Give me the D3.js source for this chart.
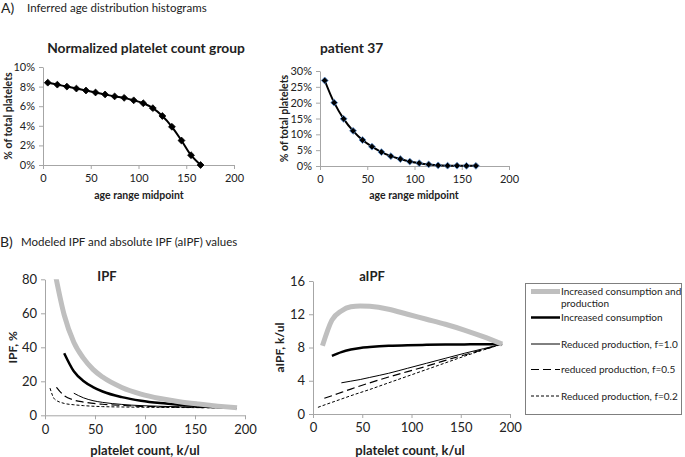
<!DOCTYPE html>
<html><head><meta charset="utf-8">
<script src="https://cdn.jsdelivr.net/npm/d3@7"></script>
<style>
html,body{margin:0;padding:0;background:#fff;}
svg{display:block;font-family:Lato,"Open Sans",sans-serif;}
</style></head>
<body><svg id="c" width="685" height="457"></svg>
<script>
// ---------- Data ----------
const ageMid = [5,15,25,35,45,55,65,75,85,95,105,115,125,135,145,155,165];
const normalizedPct = [8.4,8.2,8.0,7.8,7.6,7.4,7.2,7.0,6.85,6.6,6.3,5.8,5.0,3.9,2.5,1.0,0.0];
const patient37Pct = [27.0,20.0,14.9,11.1,8.2,6.1,4.4,3.1,2.2,1.4,0.9,0.5,0.2,0.1,0.1,0.05,0.05];
const ageTicks = [0,50,100,150,200];
const pctTicksA1 = [0,2,4,6,8,10];
const pctTicksA2 = [0,5,10,15,20,25,30];

const countTicks = [0,50,100,150,200];
const ipfTicks = [0,20,40,60,80];
const aipfTicks = [0,4,8,12,16];

const seriesNames = ["Increased consumption and production","Increased consumption","Reduced production, f=1.0","reduced production, f=0.5","Reduced production, f=0.2"];
const countsConsProd = [9.6,19.2,28.8,38.4,48,57.6,76.8,96,115.2,134.4,153.6,172.8,192];
const ipfConsProd   = [85,59,43,33.6,27,22.5,16.4,12.5,9.9,8.0,6.6,5.4,4.4];
const aipfConsProd  = [8.2,11.3,12.4,12.9,13.0,12.95,12.6,12.0,11.4,10.8,10.1,9.3,8.4];
const countsCons = [19.2,28.8,38.4,48,57.6,76.8,96,115.2,134.4,153.6,172.8,192];
const ipfCons    = [36.5,25.9,20.2,16.6,14.0,10.7,8.6,7.2,6.2,5.4,4.85,4.4];
const aipfCons   = [7.0,7.45,7.75,7.95,8.05,8.2,8.28,8.32,8.35,8.37,8.39,8.4];
const countsF10 = [28.8,38.4,48,57.6,76.8,96,115.2,134.4,153.6,172.8,192];
const ipfF10    = [13.0,10.3,8.6,7.6,6.4,5.7,5.3,5.0,4.75,4.55,4.4];
const aipfF10   = [3.75,3.95,4.15,4.4,4.9,5.5,6.1,6.7,7.3,7.85,8.4];
const countsF05 = [11.5,19.2,28.8,38.4,57.6,76.8,96,115.2,134.4,153.6,172.8,192];
const ipfF05    = [16.5,11.5,9.0,7.8,6.5,5.8,5.3,5.0,4.8,4.6,4.5,4.4];
const aipfF05   = [1.9,2.2,2.6,3.0,3.75,4.45,5.1,5.75,6.45,7.1,7.75,8.4];
const countsF02 = [5,9.6,19.2,28.8,38.4,57.6,76.8,96,115.2,134.4,153.6,172.8,192];
const ipfF02    = [16,9.5,7.0,6.2,5.7,5.1,4.9,4.75,4.65,4.57,4.5,4.45,4.4];
const aipfF02   = [0.8,1.0,1.4,1.8,2.2,2.95,3.75,4.55,5.35,6.15,6.95,7.7,8.4];

// ---------- Drawing ----------
const svg = d3.select("#c");
const AX = "#a6a6a6", TXT = "#222";

// headers
svg.append("text").attr("x",1).attr("y",13).attr("font-size",14).attr("fill",TXT).text("A)");
svg.append("text").attr("x",27).attr("y",12).attr("font-size",11.5).attr("fill",TXT).text("Inferred age distribution histograms");
svg.append("text").attr("x",0).attr("y",247).attr("font-size",14).attr("fill",TXT).text("B)");
svg.append("text").attr("x",21).attr("y",246).attr("font-size",11.5).attr("fill",TXT).text("Modeled IPF and absolute IPF (aIPF) values");

function axes(g, x, y, xt, yt, yfmt, fs, xLabY) {
  const xa = d3.axisBottom(x).tickValues(xt).tickSize(4).tickSizeOuter(0).tickPadding(xLabY);
  const ya = d3.axisLeft(y).tickValues(yt).tickSize(4).tickSizeOuter(0).tickFormat(yfmt).tickPadding(4);
  const gx = g.append("g").attr("transform",`translate(0,${y.range()[0]})`).call(xa);
  const gy = g.append("g").attr("transform",`translate(${x.range()[0]},0)`).call(ya);
  [gx,gy].forEach(a=>{
    a.select(".domain").attr("stroke",AX);
    a.selectAll(".tick line").attr("stroke",AX);
    a.selectAll(".tick text").attr("fill",TXT).attr("font-size",fs).attr("font-family","Lato,'Open Sans',sans-serif");
  });
}

function chartA(x0,x1,yTop,yBot,ymax,ticks,vals,title,titleX,titleAnchor,ylabX,xlabX,markerStroke){
  const x = d3.scaleLinear().domain([0,200]).range([x0,x1]);
  const y = d3.scaleLinear().domain([0,ymax]).range([yBot,yTop]);
  const g = svg.append("g");
  axes(g,x,y,ageTicks,ticks,d=>d+"%",11,5);
  g.append("text").attr("x",titleX).attr("y",53).attr("text-anchor",titleAnchor).attr("font-weight","bold").attr("font-size",13.8).attr("fill",TXT).text(title);
  g.append("text").attr("transform",`translate(${ylabX},${(yTop+yBot)/2}) rotate(-90)`).attr("text-anchor","middle").attr("font-weight","bold").attr("font-size",10.5).attr("fill",TXT).text("% of total platelets");
  g.append("text").attr("x",xlabX).attr("y",199).attr("text-anchor","middle").attr("font-weight","bold").attr("font-size",10.5).attr("fill",TXT).text("age range midpoint");
  const pts = ageMid.map((a,i)=>[a,vals[i]]);
  g.append("path").datum(pts).attr("fill","none").attr("stroke","#000").attr("stroke-width",2)
    .attr("d",d3.line().x(d=>x(d[0])).y(d=>y(d[1])).curve(d3.curveCatmullRom.alpha(0.5)));
  g.selectAll(".m").data(pts).enter().append("path")
    .attr("transform",d=>`translate(${x(d[0])},${y(d[1])})`)
    .attr("d",d3.symbol(d3.symbolDiamond2,30)())
    .attr("fill","#000").attr("stroke",markerStroke).attr("stroke-width",0.8);
}
chartA(43,234,67,165,10,pctTicksA1,normalizedPct,"Normalized platelet count group",146,"middle",12,139,"#000");
chartA(320,509,71,166,30,pctTicksA2,patient37Pct,"patient 37",320,"start",288,414,"#5b8fd0");

const styles = [
  {stroke:"#bfbfbf",w:5,dash:null},
  {stroke:"#000",w:2.5,dash:null},
  {stroke:"#000",w:1,dash:null},
  {stroke:"#000",w:1.2,dash:"8,4"},
  {stroke:"#000",w:1,dash:"3,2"}
];

function chartB(x0,x1,yTop,yBot,ymax,yt,series,title,titleX,ylab,ylabX,xlabX,clipId){
  const x = d3.scaleLinear().domain([0,200]).range([x0,x1]);
  const y = d3.scaleLinear().domain([0,ymax]).range([yBot,yTop]);
  const g = svg.append("g");
  axes(g,x,y,countTicks,yt,d=>d,13,5);
  svg.append("clipPath").attr("id",clipId).append("rect").attr("x",x0).attr("y",yTop).attr("width",x1-x0+10).attr("height",yBot-yTop);
  g.append("text").attr("x",titleX).attr("y",281).attr("text-anchor","middle").attr("font-weight","bold").attr("font-size",13).attr("fill",TXT).text(title);
  g.append("text").attr("transform",`translate(${ylabX},${(yTop+yBot)/2}) rotate(-90)`).attr("text-anchor","middle").attr("font-weight","bold").attr("font-size",12).attr("fill",TXT).text(ylab);
  g.append("text").attr("x",xlabX).attr("y",455).attr("text-anchor","middle").attr("font-weight","bold").attr("font-size",13).attr("fill",TXT).text("platelet count, k/ul");
  const line = d3.line().x(d=>x(d[0])).y(d=>y(d[1])).curve(d3.curveMonotoneX);
  const lg = g.append("g").attr("clip-path",`url(#${clipId})`);
  series.slice().reverse().forEach((s,ri)=>{
    const i = series.length-1-ri;
    const st = styles[i];
    lg.append("path").datum(s[0].map((c,k)=>[c,s[1][k]]))
      .attr("fill","none").attr("stroke",st.stroke).attr("stroke-width",st.w)
      .attr("stroke-dasharray",st.dash).attr("stroke-linejoin","round").attr("d",line);
  });
}
chartB(45,245,279.3,415.3,80,ipfTicks,[
  [countsConsProd,ipfConsProd],[countsCons,ipfCons],[countsF10,ipfF10],[countsF05,ipfF05],[countsF02,ipfF02]
],"IPF",107,"IPF, %",17,145,"clipIPF");
chartB(313,510,281,414,16,aipfTicks,[
  [countsConsProd,aipfConsProd],[countsCons,aipfCons],[countsF10,aipfF10],[countsF05,aipfF05],[countsF02,aipfF02]
],"aIPF",372,"aIPF, k/ul",284,410,"clipAIPF");

// legend
const lg = svg.append("g");
lg.append("rect").attr("x",525.5).attr("y",283.5).attr("width",156).attr("height",131).attr("fill","#fff").attr("stroke","#7f7f7f").attr("stroke-width",1);
const legY = [291.5,317.5,344,369.5,396];
seriesNames.forEach((n,i)=>{
  const st = styles[i];
  lg.append("line").attr("x1",531).attr("x2",560).attr("y1",legY[i]).attr("y2",legY[i])
    .attr("stroke",st.stroke).attr("stroke-width",st.w).attr("stroke-dasharray",st.dash);
  if(i===0){
    lg.append("text").attr("x",561).attr("y",legY[i]+3.5).attr("font-size",10).attr("fill",TXT).text("Increased consumption and");
    lg.append("text").attr("x",561).attr("y",legY[i]+15).attr("font-size",10).attr("fill",TXT).text("production");
  } else {
    lg.append("text").attr("x",561).attr("y",legY[i]+3.5).attr("font-size",10).attr("fill",TXT).text(n);
  }
});
</script></body></html>
